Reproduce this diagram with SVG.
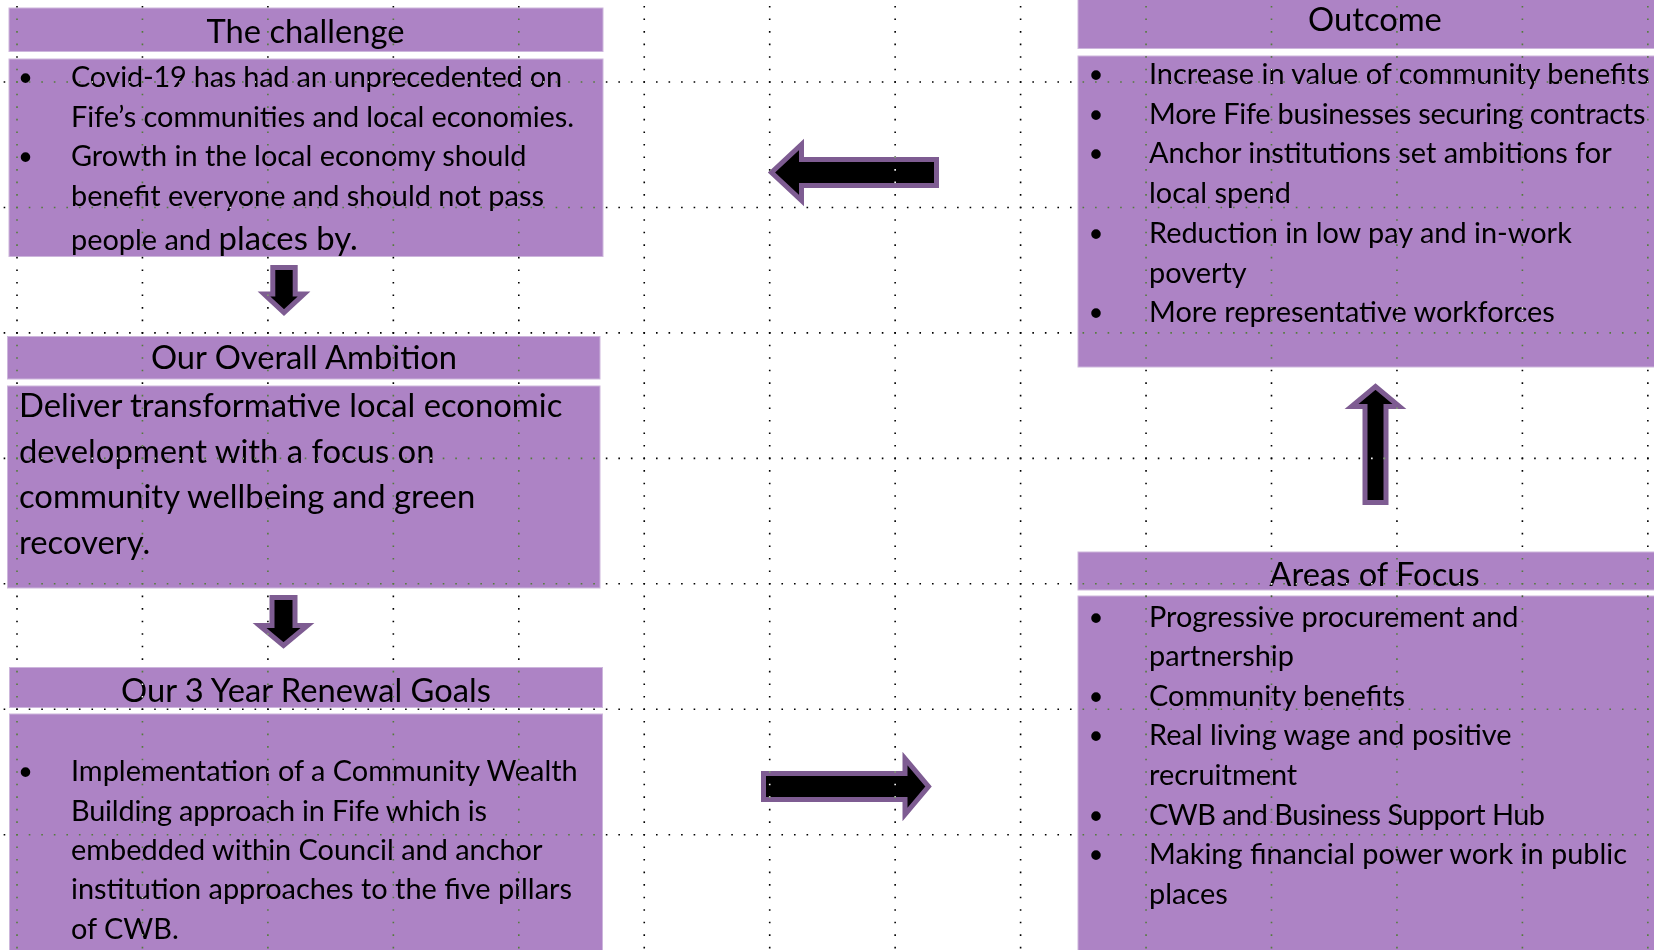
<svg xmlns="http://www.w3.org/2000/svg" width="1654" height="950" viewBox="0 0 1654 950">
  <style>
    .box { fill: #ad83c5; stroke: #cdb6dc; stroke-width: 1; }
    .hd { font-family: Lato, "Liberation Sans", sans-serif; font-size: 32.7px; fill: #000; text-anchor: middle; }
    .tx { font-family: Lato, "Liberation Sans", sans-serif; font-size: 28.9px; fill: #000; }
    .big { font-family: Lato, "Liberation Sans", sans-serif; font-size: 32.8px; fill: #000; }
    .bl { font-family: "DejaVu Sans", sans-serif; font-size: 33px; fill: #000; text-anchor: middle; }
    .arrow { fill: #000; stroke: #7e5c92; stroke-width: 5; stroke-linejoin: miter; stroke-miterlimit: 10; }
    .grid { fill: none; stroke: #fff; stroke-width: 1.6; stroke-dasharray: 1.6 10.945; }
  </style>

  <rect x="0" y="0" width="1654" height="950" fill="#fff"/>

  <!-- left column -->
  <g id="challenge">
    <rect class="box" x="9" y="8" width="594" height="43.5"/>
    <rect class="box" x="9" y="59" width="594" height="197.5"/>
    <text class="hd" x="305.5" y="43">The challenge</text>
    <text class="bl" x="25.5" y="91">•</text>
    <text class="bl" x="25.5" y="170">•</text>
    <text class="tx" x="71" y="87" textLength="491" lengthAdjust="spacing">Covid-19 has had an unprecedented on</text>
    <text class="tx" x="71" y="126.5" textLength="503" lengthAdjust="spacing">Fife’s communities and local economies.</text>
    <text class="tx" x="71" y="166">Growth in the local economy should</text>
    <text class="tx" x="71" y="205.5">benefit everyone and should not pass</text>
    <text class="tx" x="71" y="249.5">people and <tspan class="big">places by.</tspan></text>
  </g>

  <g id="ambition">
    <rect class="box" x="7.5" y="336.5" width="592.5" height="42.5"/>
    <rect class="box" x="7.5" y="386" width="592.5" height="202"/>
    <text class="hd" x="304" y="369">Our Overall Ambition</text>
    <text class="big" x="19" y="417">Deliver transformative local economic</text>
    <text class="big" x="19" y="462.5">development with a focus on</text>
    <text class="big" x="19" y="508">community wellbeing and green</text>
    <text class="big" x="19" y="553.5">recovery.</text>
  </g>

  <g id="goals">
    <rect class="box" x="9.5" y="667.5" width="593" height="40"/>
    <rect class="box" x="9.5" y="714" width="593" height="242"/>
    <text class="hd" x="306" y="702">Our 3 Year Renewal Goals</text>
    <text class="bl" x="25.5" y="785">•</text>
    <text class="tx" x="71" y="781">Implementation of a Community Wealth</text>
    <text class="tx" x="71" y="820.5" textLength="416" lengthAdjust="spacing">Building approach in Fife which is</text>
    <text class="tx" x="71" y="860">embedded within Council and anchor</text>
    <text class="tx" x="71" y="899">institution approaches to the five pillars</text>
    <text class="tx" x="71" y="938.5">of CWB.</text>
  </g>

  <!-- right column -->
  <g id="outcome">
    <rect class="box" x="1078" y="-4" width="582" height="52.5"/>
    <rect class="box" x="1078" y="56" width="582" height="311"/>
    <text class="hd" x="1375" y="31">Outcome</text>
    <text class="bl" x="1096" y="88">•</text>
    <text class="bl" x="1096" y="127.7">•</text>
    <text class="bl" x="1096" y="167.4">•</text>
    <text class="bl" x="1096" y="246.8">•</text>
    <text class="bl" x="1096" y="326.2">•</text>
    <text class="tx" x="1149" y="84">Increase in value of community benefits</text>
    <text class="tx" x="1149" y="123.7" textLength="496.5" lengthAdjust="spacing">More Fife businesses securing contracts</text>
    <text class="tx" x="1149" y="163.4">Anchor institutions set ambitions for</text>
    <text class="tx" x="1149" y="203.1">local spend</text>
    <text class="tx" x="1149" y="242.8">Reduction in low pay and in-work</text>
    <text class="tx" x="1149" y="282.5">poverty</text>
    <text class="tx" x="1149" y="322.2">More representative workforces</text>
  </g>

  <g id="focus">
    <rect class="box" x="1078" y="552" width="582" height="38"/>
    <rect class="box" x="1078" y="596" width="582" height="360"/>
    <text class="hd" x="1374.5" y="586">Areas of Focus</text>
    <text class="bl" x="1096" y="630.5">•</text>
    <text class="bl" x="1096" y="709.8">•</text>
    <text class="bl" x="1096" y="749.4">•</text>
    <text class="bl" x="1096" y="828.7">•</text>
    <text class="bl" x="1096" y="868.3">•</text>
    <text class="tx" x="1149" y="626.5">Progressive procurement and</text>
    <text class="tx" x="1149" y="666.1">partnership</text>
    <text class="tx" x="1149" y="705.8">Community benefits</text>
    <text class="tx" x="1149" y="745.4">Real living wage and positive</text>
    <text class="tx" x="1149" y="785">recruitment</text>
    <text class="tx" x="1149" y="824.7" textLength="396" lengthAdjust="spacing">CWB and Business Support Hub</text>
    <text class="tx" x="1149" y="864.3">Making financial power work in public</text>
    <text class="tx" x="1149" y="903.9">places</text>
  </g>

  <!-- block arrows -->
  <g id="connectors">
    <path class="arrow" d="M272.8 267.5 H295.2 V294 H304 L284 312.5 L264 294 H272.8 Z"/>
    <path class="arrow" d="M272 597.5 H295 V625.5 H307.5 L283.5 645.5 L259.5 625.5 H272 Z"/>
    <path class="arrow" d="M1365 502.5 H1386 V406.5 H1399.5 L1375.5 386.5 L1351.5 406.5 H1365 Z"/>
    <path class="arrow" d="M936.5 159.5 V185.5 H801.5 V200.5 L771.5 172.5 L801.5 144.5 V159.5 Z"/>
    <path class="arrow" d="M763.5 773.5 V799.5 H905 V814.5 L928.5 786.5 L905 758.5 V773.5 Z"/>
  </g>

  <!-- dotted layout grid, inverted over whatever lies beneath -->
  <g id="grid" class="grid" style="mix-blend-mode:difference">
    <path d="M17 -6.6 V955 M142.45 -6.6 V955 M267.9 -6.6 V955 M393.35 -6.6 V955 M518.8 -6.6 V955 M644.25 -6.6 V955 M769.7 -6.6 V955 M895.15 -6.6 V955 M1020.6 -6.6 V955 M1146.05 -6.6 V955 M1271.5 -6.6 V955 M1396.95 -6.6 V955 M1522.4 -6.6 V955 M1647.85 -6.6 V955"/>
    <path d="M3.65 82 H1660 M3.65 207.45 H1660 M3.65 332.9 H1660 M3.65 458.35 H1660 M3.65 583.8 H1660 M3.65 709.25 H1660 M3.65 834.7 H1660"/>
  </g>
</svg>
